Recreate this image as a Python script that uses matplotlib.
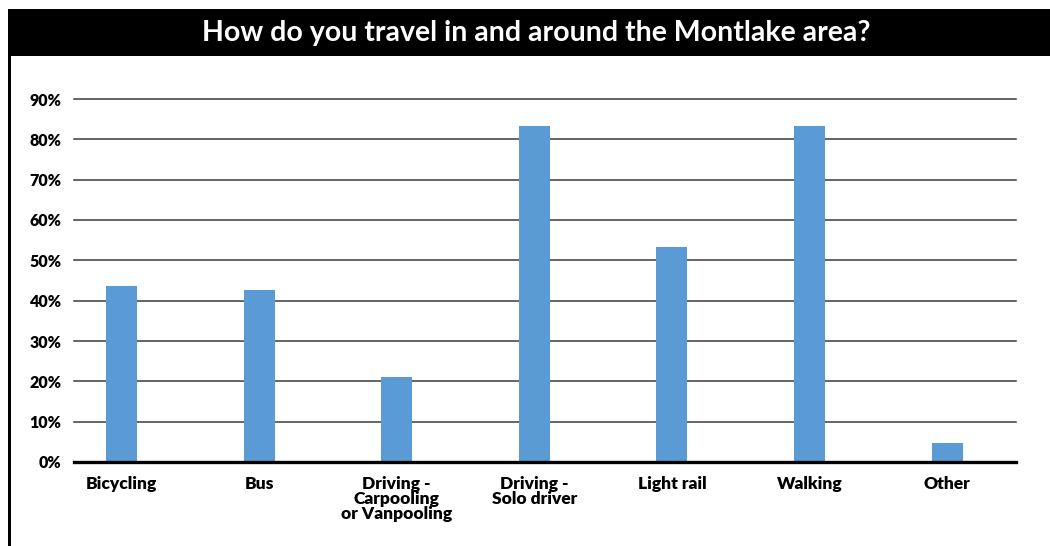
import matplotlib.pyplot as plt
from matplotlib.patches import Rectangle

plt.rcParams['font.family'] = ['Lato', 'DejaVu Sans']

categories = ['Bicycling', 'Bus', 'Driving -\nCarpooling\nor Vanpooling', 'Driving -\nSolo driver',
              'Light rail', 'Walking', 'Other']
percentages = [43.7, 42.7, 21.0, 83.2, 53.4, 83.4, 4.7]
yticks = [0, 10, 20, 30, 40, 50, 60, 70, 80, 90]

W, H = 1050, 546
fig = plt.figure(figsize=(W / 100, H / 100), dpi=100)

# black title band and left border
fig.patches.append(Rectangle((8 / W, 1 - 56 / H), 1 - 8 / W, 47 / H, transform=fig.transFigure,
                             facecolor='black', edgecolor='none'))
fig.patches.append(Rectangle((8 / W, 0), 3 / W, 1 - 56 / H, transform=fig.transFigure,
                             facecolor='black', edgecolor='none'))
fig.text(0.5 + 11 / W, 1 - 33 / H, 'How do you travel in and around the Montlake area?', color='white',
         fontsize=20.5, fontweight='bold', ha='center', va='center')

ax = fig.add_axes([74 / W, 1 - 462 / H, 942 / W, 363 / H])
x = list(range(len(categories)))
ax.bar(x, percentages, width=0.225, color='#5B9BD5', zorder=3)
ax.set_xlim(-0.345, 6.50)
ax.set_ylim(0, 90)

for v in yticks[1:]:
    ax.axhline(v, color='#3a3a3a', lw=1.1, zorder=1, clip_on=False)
ax.axhline(0, color='black', lw=2.4, zorder=4, clip_on=False)

for s in ax.spines.values():
    s.set_visible(False)

ax.set_yticks(yticks)
ax.set_yticklabels([f'{v}%' for v in yticks], fontsize=11.5, fontweight='heavy')
ax.set_xticks(x)
ax.set_xticklabels(categories, fontsize=12.5, fontweight='heavy', linespacing=0.92)
ax.tick_params(axis='y', length=0, pad=9)
ax.tick_params(axis='x', length=0, pad=10)

fig.savefig('out.png', dpi=100, facecolor='white')
